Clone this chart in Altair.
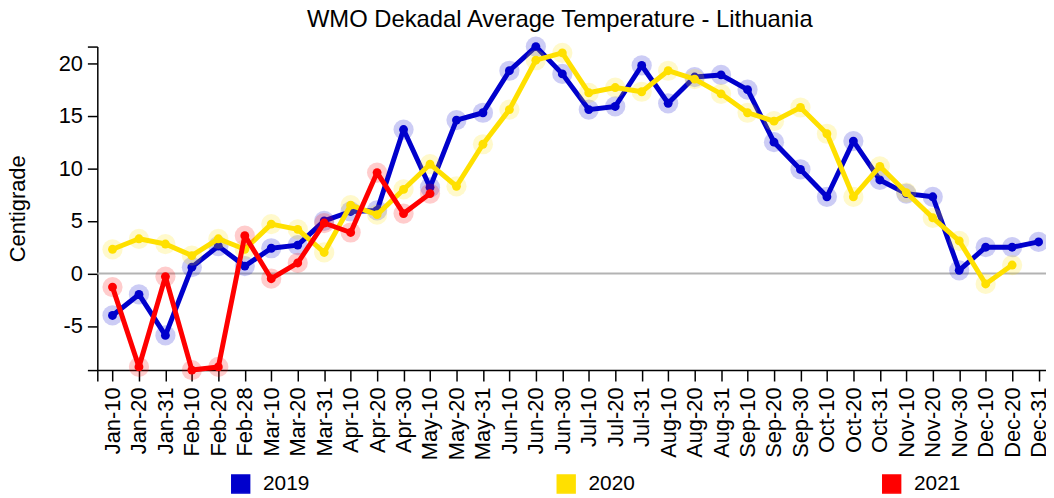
import altair as alt
import pandas as pd

labels = ["Jan-10", "Jan-20", "Jan-31", "Feb-10", "Feb-20", "Feb-28",
          "Mar-10", "Mar-20", "Mar-31", "Apr-10", "Apr-20", "Apr-30",
          "May-10", "May-20", "May-31", "Jun-10", "Jun-20", "Jun-30",
          "Jul-10", "Jul-20", "Jul-31", "Aug-10", "Aug-20", "Aug-31",
          "Sep-10", "Sep-20", "Sep-30", "Oct-10", "Oct-20", "Oct-31",
          "Nov-10", "Nov-20", "Nov-30", "Dec-10", "Dec-20", "Dec-31"]

t2019 = [-4.0, -2.0, -5.9, 0.6, 2.6, 0.7, 2.4, 2.7, 5.0, 5.9, 6.0, 13.7,
         8.2, 14.6, 15.3, 19.3, 21.6, 19.0, 15.6, 15.9, 19.8, 16.2, 18.7, 18.9,
         17.5, 12.5, 9.9, 7.3, 12.6, 8.9, 7.6, 7.3, 0.3, 2.5, 2.5, 3.0]
t2020 = [2.3, 3.3, 2.8, 1.7, 3.3, 2.3, 4.7, 4.2, 2.0, 6.5, 5.6, 8.0,
         10.4, 8.3, 12.3, 15.6, 20.3, 21.0, 17.2, 17.7, 17.3, 19.3, 18.5, 17.1,
         15.3, 14.5, 15.8, 13.3, 7.3, 10.2, 7.7, 5.3, 3.1, -1.0, 0.8, None]
t2021 = [-1.3, -8.9, -0.3, -9.2, -8.9, 3.6, -0.5, 1.0, 4.8, 3.9, 9.6, 5.7,
         7.6] + [None] * 23

years = ["2019", "2020", "2021"]
colors = ["#0000CC", "#FFE000", "#FF0000"]
zero_line = [0]

rows = []
for year, vals in zip(years, [t2019, t2020, t2021]):
    for i, (lab, v) in enumerate(zip(labels, vals)):
        if v is not None:
            rows.append({"idx": i, "dekad": lab, "year": year, "temp": v})
df = pd.DataFrame(rows)

y_min, y_max = -9.2, 21.6
x_min, x_max = -0.574, 35.28

label_js = "[" + ",".join("'" + l + "'" for l in labels) + "]"

x_enc = alt.X(
    "idx:Q",
    scale=alt.Scale(domain=[x_min, x_max], nice=False, zero=False),
    axis=alt.Axis(
        values=[x_min] + list(range(len(labels))),
        labelExpr="datum.value < 0 ? '' : " + label_js + "[round(datum.value)]",
        labelAngle=270, tickSize=11, labelPadding=6, title=None, grid=False,
        labelFontSize=22, labelFlush=False, labelOverlap=False,
    ),
)
y_enc = alt.Y(
    "temp:Q",
    scale=alt.Scale(domain=[y_min, y_max], nice=False, zero=False),
    axis=alt.Axis(
        values=[y_min, -5, 0, 5, 10, 15, 20, y_max],
        labelExpr="abs(datum.value % 5) < 0.001 ? '' + datum.value : ''",
        tickSize=10, labelPadding=5, grid=False, labelFontSize=22,
        title="Centigrade", titleFontSize=22, titleFontWeight="normal",
        titleX=-68, titleY=163,
    ),
)
color_scale = alt.Scale(domain=years, range=colors)
legend = alt.Legend(
    orient="none", legendX=134, legendY=430, direction="horizontal",
    title=None, symbolType="square", symbolSize=324,
    labelFontSize=21, labelOffset=12, columnPadding=246,
    symbolStrokeColor="#999999", symbolStrokeWidth=1.5, padding=0,
    labelColor="black", symbolOpacity=1,
)

base = alt.Chart(df).encode(
    x=x_enc, y=y_enc,
    color=alt.Color("year:N", scale=color_scale, legend=legend),
)

zero_rule = alt.Chart(pd.DataFrame({"v": zero_line})).mark_rule(
    color="#b3b3b3", strokeWidth=2
).encode(y=alt.Y("v:Q"))

layers = [zero_rule]
for year in years:
    sub = base.transform_filter(alt.datum.year == year)
    layers.append(sub.mark_line(strokeWidth=5, strokeJoin="round"))
    layers.append(sub.mark_circle(size=415, opacity=0.2))
    layers.append(sub.mark_circle(size=80, opacity=1))

chart = alt.layer(*layers).properties(
    width=956, height=326,
    autosize=alt.AutoSizeParams(type="none"),
    padding={"left": 90, "top": 37, "right": 0, "bottom": 123},
    title=alt.TitleParams(
        "WMO Dekadal Average Temperature - Lithuania", fontSize=24,
        fontWeight="normal", anchor="middle", dx=-12, offset=5,
        color="black",
    ),
).configure(font="Liberation Sans").configure_view(stroke=None).configure_axis(
    domainColor="black", tickColor="black", labelColor="black",
    titleColor="black", domainWidth=1.5, tickWidth=1.5,
    labelFont="Liberation Sans", titleFont="Liberation Sans",
)

chart.save("out.html", embed_options={"renderer": "svg", "actions": False})
